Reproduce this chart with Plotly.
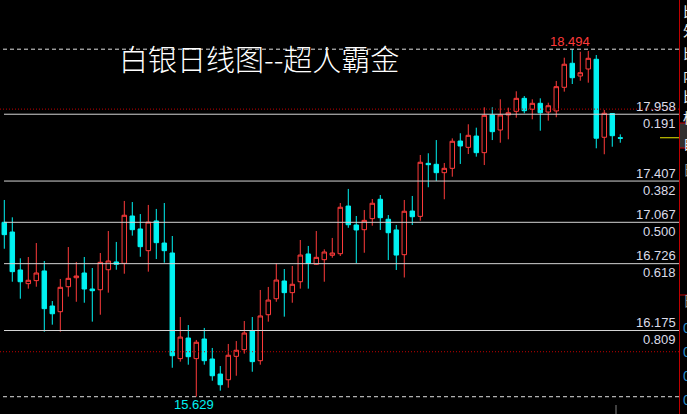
import plotly.graph_objects as go

# ---- data ----
days = list(range(78))
opens = [17.067, 16.987, 16.674, 16.561, 16.586, 16.666, 16.377, 16.330, 16.536, 16.610,
         16.649, 16.517, 16.511, 16.676, 16.740, 16.729, 17.119, 17.012, 16.833, 17.078,
         16.896, 16.814, 15.943, 16.113, 15.943, 16.105, 15.940, 15.816, 15.769, 15.962,
         16.017, 16.171, 15.926, 16.305, 16.437, 16.583, 16.487, 16.577, 16.806, 16.721,
         16.759, 16.795, 16.808, 17.201, 17.045, 17.006, 17.097, 17.257, 17.092, 17.004,
         16.800, 17.160, 17.116, 17.553, 17.545, 17.476, 17.512, 17.737, 17.685, 17.778,
         17.641, 17.952, 17.828, 17.952, 17.982, 18.089, 17.999, 18.048, 17.976, 17.985,
         18.180, 18.378, 18.273, 18.331, 18.411, 17.768, 17.964, 17.764]
highs = [17.251, 17.108, 16.770, 16.781, 16.896, 16.748, 16.418, 16.600, 16.863, 16.740,
         16.781, 16.690, 16.814, 16.995, 16.905, 17.243, 17.234, 17.135, 17.210, 17.177,
         17.226, 16.954, 16.286, 16.220, 16.097, 16.196, 16.031, 15.882, 16.064, 16.088,
         16.253, 16.286, 16.509, 16.534, 16.729, 16.682, 16.707, 16.921, 16.872, 16.995,
         16.844, 16.938, 17.226, 17.342, 17.119, 17.168, 17.259, 17.292, 17.127, 17.045,
         17.251, 17.284, 17.622, 17.636, 17.745, 17.556, 17.759, 17.801, 17.875, 17.847,
         18.015, 18.015, 18.081, 18.012, 18.147, 18.108, 18.081, 18.089, 18.053, 18.232,
         18.424, 18.494, 18.473, 18.479, 18.446, 17.993, 17.966, 17.792]
lows = [16.849, 16.577, 16.437, 16.520, 16.536, 16.165, 16.223, 16.165, 16.454, 16.412,
        16.404, 16.248, 16.305, 16.487, 16.676, 16.643, 16.957, 16.783, 16.660, 16.764,
        16.734, 15.868, 15.918, 15.893, 15.629, 15.893, 15.761, 15.679, 15.703, 15.802,
        15.984, 15.835, 15.893, 16.248, 16.412, 16.289, 16.404, 16.520, 16.520, 16.715,
        16.577, 16.775, 16.789, 17.022, 16.729, 16.816, 17.039, 17.004, 16.756, 16.674,
        16.612, 17.045, 17.080, 17.356, 17.407, 17.257, 17.443, 17.548, 17.630, 17.608,
        17.539, 17.745, 17.723, 17.751, 17.929, 17.966, 17.916, 17.822, 17.905, 17.933,
        18.144, 18.207, 18.234, 18.218, 17.677, 17.628, 17.690, 17.723]
closes = [16.965, 16.660, 16.577, 16.589, 16.649, 16.355, 16.313, 16.531, 16.605, 16.624,
          16.517, 16.503, 16.737, 16.748, 16.721, 17.125, 17.006, 16.866, 17.069, 16.899,
          16.833, 15.967, 16.121, 15.959, 16.078, 15.926, 15.802, 15.728, 15.971, 16.012,
          16.154, 15.918, 16.295, 16.426, 16.591, 16.487, 16.556, 16.797, 16.729, 16.778,
          16.822, 16.814, 17.191, 17.047, 17.004, 17.083, 17.224, 17.105, 16.981, 16.797,
          17.158, 17.113, 17.562, 17.542, 17.476, 17.512, 17.735, 17.696, 17.784, 17.641,
          17.949, 17.814, 17.952, 17.970, 18.089, 17.987, 18.048, 17.970, 18.028, 18.185,
          18.370, 18.259, 18.300, 18.419, 17.760, 17.966, 17.781, 17.760]

fib_prices = [17.958, 17.407, 17.067, 16.726, 16.175]
fib_labels = ["17.958", "17.407", "17.067", "16.726", "16.175"]
fib_ratios = ["0.191", "0.382", "0.500", "0.618", "0.809"]
swing_high = 18.494
swing_low = 15.629
high_idx = 71
low_idx = 24
round_levels = [18.0, 16.0]
last_price = 17.764
title_text = "白银日线图--超人霸金"
side_chars = ["比", "外", "比", "内", "比", "标", "自", "日"]
side_chars_y = [3, 22, 45, 67, 88, 109, 135, 161]

# ---- figure ----
W, H = 687, 414
RED = "#FF3B3B"
CYAN = "#00F2F2"
LINEC = "#D4D4D4"

fig = go.Figure()
fig.add_trace(go.Candlestick(
    x=days, open=opens, high=highs, low=lows, close=closes,
    increasing=dict(line=dict(color=RED, width=1), fillcolor="#000000"),
    decreasing=dict(line=dict(color=CYAN, width=1), fillcolor=CYAN),
    whiskerwidth=0, hoverinfo="skip", showlegend=False,
))

px = lambda v: v / W
shapes = []
annotations = []

# fib lines + labels
for p, lab, r in zip(fib_prices, fib_labels, fib_ratios):
    shapes.append(dict(type="line", xref="paper", yref="y", x0=px(4), x1=px(679), y0=p, y1=p,
                       line=dict(color=LINEC, width=1)))
    annotations.append(dict(xref="paper", yref="y", x=px(678), y=p, text=lab, showarrow=False,
                            xanchor="right", yanchor="middle", yshift=8,
                            font=dict(family="Liberation Sans", size=13, color="#DCDCE8")))
    annotations.append(dict(xref="paper", yref="y", x=px(678), y=p, text=r, showarrow=False,
                            xanchor="right", yanchor="middle", yshift=-9,
                            font=dict(family="Liberation Sans", size=13, color="#DCDCE8")))

# swing high / low dashed lines
for p in (swing_high, swing_low):
    shapes.append(dict(type="line", xref="paper", yref="y", x0=px(3), x1=px(679), y0=p, y1=p,
                       line=dict(color="#E0E0E0", width=1, dash="4px,3px")))

# round-number red dotted lines
for p in round_levels:
    shapes.append(dict(type="line", xref="paper", yref="y", x0=0, x1=px(679), y0=p, y1=p,
                       line=dict(color="#C00000", width=1, dash="1px,2px")))

# current price marker
shapes.append(dict(type="line", xref="paper", yref="y", x0=px(660), x1=px(679),
                   y0=last_price, y1=last_price, line=dict(color="#E8E800", width=1)))

# right side panel
shapes.append(dict(type="rect", xref="paper", yref="paper", x0=px(679.5), x1=px(690),
                   y0=1 - 148 / H, y1=1 - 123 / H, fillcolor="#303030",
                   line=dict(color="#C00000", width=1)))
shapes.append(dict(type="line", xref="paper", yref="paper", x0=px(679.5), x1=px(679.5),
                   y0=0, y1=1, line=dict(color="#C00000", width=1)))
shapes.append(dict(type="line", xref="paper", yref="paper", x0=px(679.5), x1=px(690),
                   y0=1 - 295 / H, y1=1 - 295 / H, line=dict(color="#C00000", width=1)))
shapes.append(dict(type="line", xref="paper", yref="paper", x0=px(616), x1=px(616),
                   y0=0, y1=9 / H, line=dict(color="#808080", width=1)))

for ch, yy in zip(side_chars, side_chars_y):
    col = "#909090" if ch == "日" else "#F0F0F0"
    annotations.append(dict(xref="paper", yref="paper", x=px(681), y=1 - (yy + 8) / H, text=ch,
                            showarrow=False, xanchor="left", yanchor="middle",
                            font=dict(family="Noto Sans CJK SC", size=14, color=col)))
annotations.append(dict(xref="paper", yref="paper", x=px(681), y=1 - 300 / H, text="日",
                        showarrow=False, xanchor="left", yanchor="middle",
                        font=dict(family="Noto Sans CJK SC", size=14, color="#909090")))
for yy in (328, 352, 376, 400):
    annotations.append(dict(xref="paper", yref="paper", x=px(681), y=1 - yy / H, text="0",
                            showarrow=False, xanchor="left", yanchor="middle",
                            font=dict(family="Liberation Sans", size=14, color="#2A8FC8")))

# high / low labels
annotations.append(dict(xref="x", yref="y", x=high_idx, y=swing_high, text=f"{swing_high:.3f}",
                        showarrow=False, xanchor="center", yanchor="middle", yshift=8, xshift=-2,
                        font=dict(family="Liberation Sans", size=13, color=RED)))
annotations.append(dict(xref="x", yref="y", x=low_idx, y=swing_low, text=f"{swing_low:.3f}",
                        showarrow=False, xanchor="center", yanchor="middle", yshift=-8, xshift=-2,
                        font=dict(family="Liberation Sans", size=13, color=CYAN)))

# title
annotations.append(dict(xref="paper", yref="paper", x=px(117), y=1 - 58 / H, text=title_text,
                        showarrow=False, xanchor="left", yanchor="middle",
                        font=dict(family="Noto Sans CJK SC", size=29, color="#FFFFFF",
                                  weight=300)))

fig.update_layout(
    width=W, height=H, margin=dict(l=0, r=0, t=0, b=0),
    paper_bgcolor="#000000", plot_bgcolor="#000000",
    boxgap=0.2,
    xaxis=dict(visible=False, range=[-0.5375, 84.34], domain=[0, 679 / W],
               rangeslider=dict(visible=False), fixedrange=True),
    yaxis=dict(visible=False, range=[15.4866, 18.8996], fixedrange=True),
    shapes=shapes, annotations=annotations, showlegend=False,
)

fig.write_html("out.html", config={"displayModeBar": False},
               post_script="document.body.style.margin='0';document.body.style.background='#000';")
